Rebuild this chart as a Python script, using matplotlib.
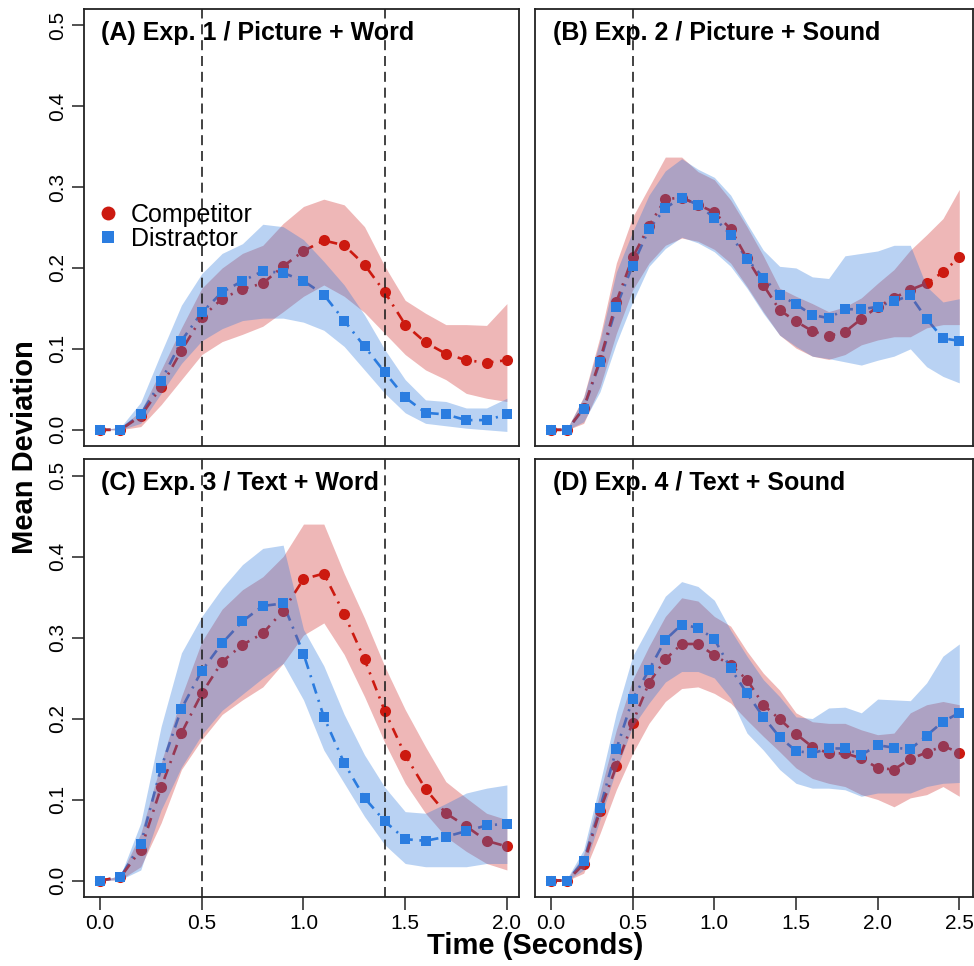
import matplotlib
matplotlib.use('Agg')
import matplotlib.pyplot as plt
from matplotlib.lines import Line2D

plt.rcParams['font.family'] = ['Liberation Sans', 'DejaVu Sans']

# --- data --------------------------------------------------------------------
time_short = [0.0, 0.1, 0.2, 0.3, 0.4, 0.5, 0.6, 0.7, 0.8, 0.9, 1.0,
              1.1, 1.2, 1.3, 1.4, 1.5, 1.6, 1.7, 1.8, 1.9, 2.0]
time_long = [0.0, 0.1, 0.2, 0.3, 0.4, 0.5, 0.6, 0.7, 0.8, 0.9, 1.0, 1.1, 1.2,
             1.3, 1.4, 1.5, 1.6, 1.7, 1.8, 1.9, 2.0, 2.1, 2.2, 2.3, 2.4, 2.5]

# (A) Exp. 1 / Picture + Word
comp_a = [0.000, 0.000, 0.017, 0.053, 0.098, 0.139, 0.162, 0.174, 0.181, 0.202, 0.221,
          0.234, 0.228, 0.204, 0.170, 0.130, 0.108, 0.094, 0.086, 0.083, 0.086]
comp_a_lo = [0.000, 0.000, 0.004, 0.031, 0.062, 0.093, 0.109, 0.118, 0.128, 0.146, 0.165,
             0.179, 0.165, 0.145, 0.119, 0.093, 0.074, 0.062, 0.045, 0.039, 0.035]
comp_a_hi = [0.000, 0.003, 0.023, 0.074, 0.126, 0.175, 0.200, 0.218, 0.228, 0.255, 0.276,
             0.285, 0.278, 0.251, 0.202, 0.160, 0.144, 0.130, 0.130, 0.129, 0.156]
dist_a = [0.000, 0.000, 0.019, 0.060, 0.110, 0.145, 0.170, 0.184, 0.196, 0.194, 0.184,
          0.167, 0.135, 0.103, 0.071, 0.040, 0.021, 0.019, 0.012, 0.012, 0.019]
dist_a_lo = [0.000, 0.000, 0.008, 0.045, 0.082, 0.110, 0.125, 0.135, 0.138, 0.138, 0.133,
             0.123, 0.103, 0.074, 0.045, 0.021, 0.008, 0.005, 0.002, 0.000, -0.002]
dist_a_hi = [0.000, 0.003, 0.034, 0.095, 0.154, 0.193, 0.218, 0.230, 0.254, 0.251, 0.235,
             0.208, 0.179, 0.142, 0.099, 0.062, 0.037, 0.035, 0.027, 0.027, 0.039]

# (B) Exp. 2 / Picture + Sound
comp_b = [0.000, 0.000, 0.027, 0.086, 0.158, 0.213, 0.252, 0.285, 0.287, 0.278, 0.269, 0.248, 0.212,
          0.179, 0.148, 0.134, 0.122, 0.116, 0.121, 0.137, 0.152, 0.163, 0.173, 0.181, 0.195, 0.213]
comp_b_lo = [0.000, 0.000, 0.008, 0.053, 0.119, 0.173, 0.206, 0.228, 0.237, 0.233, 0.223, 0.206, 0.177,
             0.146, 0.117, 0.101, 0.091, 0.087, 0.093, 0.105, 0.111, 0.115, 0.115, 0.126, 0.130, 0.130]
comp_b_hi = [0.000, 0.002, 0.041, 0.115, 0.206, 0.263, 0.300, 0.337, 0.337, 0.319, 0.309, 0.284, 0.251,
             0.215, 0.175, 0.165, 0.156, 0.146, 0.152, 0.163, 0.181, 0.198, 0.222, 0.241, 0.261, 0.297]
dist_b = [0.000, 0.000, 0.026, 0.084, 0.152, 0.203, 0.248, 0.274, 0.287, 0.278, 0.262, 0.241, 0.211,
          0.188, 0.167, 0.155, 0.142, 0.138, 0.149, 0.149, 0.152, 0.159, 0.166, 0.137, 0.113, 0.110]
dist_b_lo = [0.000, 0.000, 0.010, 0.047, 0.107, 0.158, 0.202, 0.224, 0.238, 0.231, 0.220, 0.202, 0.175,
             0.144, 0.117, 0.103, 0.091, 0.088, 0.084, 0.080, 0.086, 0.091, 0.100, 0.078, 0.066, 0.058]
dist_b_hi = [0.000, 0.002, 0.040, 0.110, 0.195, 0.245, 0.290, 0.320, 0.335, 0.322, 0.312, 0.290, 0.255,
             0.222, 0.202, 0.200, 0.189, 0.187, 0.215, 0.218, 0.221, 0.228, 0.228, 0.177, 0.158, 0.162]

# (C) Exp. 3 / Text + Word
comp_c = [0.000, 0.004, 0.038, 0.115, 0.182, 0.231, 0.270, 0.291, 0.305, 0.333, 0.372,
          0.379, 0.329, 0.273, 0.209, 0.155, 0.113, 0.083, 0.067, 0.049, 0.042]
comp_c_lo = [0.000, 0.001, 0.017, 0.071, 0.137, 0.174, 0.205, 0.223, 0.239, 0.268, 0.303,
             0.318, 0.279, 0.227, 0.170, 0.120, 0.083, 0.054, 0.036, 0.021, 0.013]
comp_c_hi = [0.000, 0.006, 0.058, 0.145, 0.227, 0.295, 0.335, 0.359, 0.375, 0.400, 0.440,
             0.440, 0.379, 0.324, 0.264, 0.211, 0.165, 0.122, 0.102, 0.083, 0.075]
dist_c = [0.000, 0.004, 0.045, 0.139, 0.212, 0.259, 0.293, 0.320, 0.339, 0.342, 0.280,
          0.202, 0.145, 0.102, 0.073, 0.051, 0.049, 0.054, 0.061, 0.068, 0.070]
dist_c_lo = [0.000, 0.001, 0.013, 0.087, 0.140, 0.180, 0.210, 0.230, 0.250, 0.268, 0.223,
             0.161, 0.120, 0.079, 0.044, 0.021, 0.017, 0.017, 0.017, 0.021, 0.021]
dist_c_hi = [0.000, 0.006, 0.071, 0.190, 0.281, 0.326, 0.361, 0.390, 0.410, 0.414, 0.310,
             0.265, 0.205, 0.155, 0.115, 0.085, 0.083, 0.095, 0.108, 0.114, 0.118]

# (D) Exp. 4 / Text + Sound
comp_d = [0.000, 0.000, 0.020, 0.086, 0.141, 0.195, 0.244, 0.273, 0.292, 0.292, 0.278, 0.266, 0.248,
          0.217, 0.199, 0.181, 0.165, 0.157, 0.157, 0.151, 0.139, 0.137, 0.150, 0.158, 0.166, 0.158]
comp_d_lo = [0.000, 0.000, 0.009, 0.058, 0.112, 0.157, 0.194, 0.221, 0.237, 0.239, 0.231, 0.219, 0.198,
             0.178, 0.159, 0.139, 0.126, 0.120, 0.116, 0.106, 0.100, 0.091, 0.102, 0.106, 0.116, 0.104]
comp_d_hi = [0.000, 0.002, 0.032, 0.108, 0.186, 0.248, 0.289, 0.326, 0.349, 0.345, 0.326, 0.314, 0.283,
             0.256, 0.235, 0.207, 0.196, 0.194, 0.194, 0.186, 0.180, 0.182, 0.207, 0.217, 0.221, 0.217]
dist_d = [0.000, 0.000, 0.024, 0.089, 0.162, 0.224, 0.260, 0.297, 0.316, 0.312, 0.298, 0.262, 0.231,
          0.202, 0.177, 0.160, 0.157, 0.163, 0.163, 0.155, 0.167, 0.164, 0.162, 0.179, 0.196, 0.207]
dist_d_lo = [0.000, 0.000, 0.013, 0.075, 0.137, 0.190, 0.219, 0.245, 0.258, 0.258, 0.250, 0.225, 0.182,
             0.161, 0.137, 0.120, 0.114, 0.114, 0.112, 0.104, 0.108, 0.108, 0.108, 0.116, 0.120, 0.121]
dist_d_hi = [0.000, 0.003, 0.038, 0.120, 0.207, 0.277, 0.314, 0.351, 0.369, 0.363, 0.346, 0.309, 0.277,
             0.248, 0.227, 0.202, 0.200, 0.213, 0.214, 0.207, 0.224, 0.223, 0.222, 0.244, 0.277, 0.292]

titles = ['(A) Exp. 1 / Picture + Word', '(B) Exp. 2 / Picture + Sound',
          '(C) Exp. 3 / Text + Word', '(D) Exp. 4 / Text + Sound']
vlines = [[0.5, 1.4], [0.5], [0.5, 1.4], [0.5]]
ticks_short = [0.0, 0.5, 1.0, 1.5, 2.0]
ticks_long = [0.0, 0.5, 1.0, 1.5, 2.0, 2.5]
y_ticks = [0.0, 0.1, 0.2, 0.3, 0.4, 0.5]

RED = '#CC1A10'
BLUE = '#2B7DE0'
RED_BAND = '#CD2525'
BLUE_BAND = '#2B78DC'
dotdash = (4, 2.5, 0.8, 2.5)

# --- figure ------------------------------------------------------------------
fig = plt.figure(figsize=(9.74, 9.66), dpi=100)
W, H = 974, 966
boxes = [(84, 9, 518.7, 446), (535, 9, 973, 446),
         (84, 459.3, 518.7, 896.7), (535, 459.3, 973, 896.7)]
axes = [fig.add_axes([l / W, 1 - b / H, (r - l) / W, (b - t) / H]) for l, t, r, b in boxes]

panels = [
    (time_short, comp_a, comp_a_lo, comp_a_hi, dist_a, dist_a_lo, dist_a_hi),
    (time_long, comp_b, comp_b_lo, comp_b_hi, dist_b, dist_b_lo, dist_b_hi),
    (time_short, comp_c, comp_c_lo, comp_c_hi, dist_c, dist_c_lo, dist_c_hi),
    (time_long, comp_d, comp_d_lo, comp_d_hi, dist_d, dist_d_lo, dist_d_hi),
]

for i, (ax, p) in enumerate(zip(axes, panels)):
    t, cm, clo, chi, dm, dlo, dhi = p
    # stacking order: blue line, red band, red line+points, blue band, blue squares
    ax.plot(t, dm, color=BLUE, lw=1.9, dashes=dotdash, zorder=1)
    ax.fill_between(t, clo, chi, color=RED_BAND, alpha=0.33, lw=0, zorder=2)
    ax.plot(t, cm, color=RED, lw=1.9, dashes=dotdash, marker='o', markersize=8,
            markeredgewidth=0, zorder=3)
    ax.fill_between(t, dlo, dhi, color=BLUE_BAND, alpha=0.33, lw=0, zorder=4)
    for v in vlines[i]:
        ax.axvline(v, color='#222222', lw=1.2, dashes=(6, 3.5), zorder=4.5)
    ax.plot(t, dm, ls='none', color=BLUE, marker='s', markersize=7,
            markeredgewidth=0, zorder=5)

    ax.set_ylim(-0.02, 0.52)
    if i % 2 == 0:
        ax.set_xlim(-0.079, 2.058)
        ax.set_xticks(ticks_short)
    else:
        ax.set_xlim(-0.098, 2.584)
        ax.set_xticks(ticks_long)
    ax.set_yticks(y_ticks)
    ax.tick_params(length=9, width=1.1, color='#222222', labelsize=15, pad=3.5)
    if i < 2:
        ax.tick_params(axis='x', bottom=False, labelbottom=False)
    else:
        ax.set_xticklabels([f'{v:.1f}' for v in ax.get_xticks()])
    if i % 2 == 1:
        ax.tick_params(axis='y', left=False, labelleft=False)
    else:
        ax.set_yticklabels([f'{v:.1f}' for v in y_ticks], rotation=90, va='center')
    for s in ax.spines.values():
        s.set_linewidth(1.3)
        s.set_color('#222222')
    ax.text(0.04, 0.945, titles[i], transform=ax.transAxes, fontsize=18,
            fontweight='bold', va='center', ha='left', zorder=10)

legend_items = [
    Line2D([0], [0], ls='none', marker='o', color=RED, markersize=10,
           markeredgewidth=0, label='Competitor'),
    Line2D([0], [0], ls='none', marker='s', color=BLUE, markersize=9,
           markeredgewidth=0, label='Distractor'),
]
axes[0].legend(handles=legend_items, loc='center left', bbox_to_anchor=(0.026, 0.501),
               frameon=False, fontsize=18, handlelength=1.0, handletextpad=0.42,
               labelspacing=0.0, borderpad=0, borderaxespad=0)

fig.text(25 / W, 1 - 447 / H, 'Mean Deviation', rotation=90, fontsize=21,
         fontweight='bold', ha='center', va='center')
fig.text(535 / W, 1 - 946 / H, 'Time (Seconds)', fontsize=21,
         fontweight='bold', ha='center', va='center')

fig.savefig('out.png', dpi=100, facecolor='white')
